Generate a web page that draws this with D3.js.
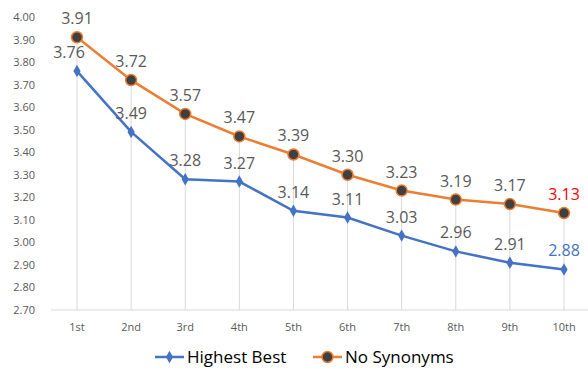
<!DOCTYPE html>
<html>
<head>
<meta charset="utf-8">
<script src="https://cdn.jsdelivr.net/npm/d3@7"></script>
<style>
    body { margin: 0; background: #fff; }
    text { font-family: "Open Sans", "Noto Sans", sans-serif; }
</style>
</head>
<body>
<div id="chart"></div>
<script>
// chart data
const categories = ["1st", "2nd", "3rd", "4th", "5th", "6th", "7th", "8th", "9th", "10th"];
const highestBest = [3.76, 3.49, 3.28, 3.27, 3.14, 3.11, 3.03, 2.96, 2.91, 2.88];
const noSynonyms = [3.91, 3.72, 3.57, 3.47, 3.39, 3.30, 3.23, 3.19, 3.17, 3.13];
const yTicks = [2.70, 2.80, 2.90, 3.00, 3.10, 3.20, 3.30, 3.40, 3.50, 3.60, 3.70, 3.80, 3.90, 4.00];

const W = 588, H = 373;
const svg = d3.select("#chart").append("svg")
    .attr("width", W)
    .attr("height", H);

// scales
const x = d3.scalePoint()
    .domain(categories)
    .range([77, 564]);

const y = d3.scaleLinear()
    .domain([2.7, 4.0])
    .range([310, 17]);

// y axis labels
svg.append("g")
    .selectAll("text")
    .data(yTicks)
    .enter().append("text")
    .attr("x", 35)
    .attr("y", d => y(d) + 4)
    .attr("text-anchor", "end")
    .attr("font-size", 11)
    .attr("fill", "#595959")
    .text(d => d.toFixed(2));

// drop lines from the top series to the axis
svg.append("g")
    .selectAll("line")
    .data(categories)
    .enter().append("line")
    .attr("x1", d => x(d))
    .attr("x2", d => x(d))
    .attr("y1", (d, i) => y(Math.max(noSynonyms[i], highestBest[i])))
    .attr("y2", y(2.7))
    .attr("stroke", "#d9d9d9")
    .attr("stroke-width", 1);

// x axis line
svg.append("line")
    .attr("x1", 51).attr("x2", 588)
    .attr("y1", y(2.7)).attr("y2", y(2.7))
    .attr("stroke", "#d9d9d9")
    .attr("stroke-width", 1);

// x axis labels
svg.append("g")
    .selectAll("text")
    .data(categories)
    .enter().append("text")
    .attr("x", d => x(d))
    .attr("y", 331)
    .attr("text-anchor", "middle")
    .attr("font-size", 11)
    .attr("fill", "#595959")
    .text(d => d);

const line = d3.line()
    .x((d, i) => x(categories[i]))
    .y(d => y(d));

// Highest Best series
svg.append("path")
    .datum(highestBest)
    .attr("d", line)
    .attr("fill", "none")
    .attr("stroke", "#4472C4")
    .attr("stroke-width", 2.5);

svg.append("g")
    .selectAll("path")
    .data(highestBest)
    .enter().append("path")
    .attr("d", d3.symbol().type(d3.symbolDiamond).size(45))
    .attr("transform", (d, i) => `translate(${x(categories[i])},${y(d)})`)
    .attr("fill", "#4472C4");

// No Synonyms series
svg.append("path")
    .datum(noSynonyms)
    .attr("d", line)
    .attr("fill", "none")
    .attr("stroke", "#ED7D31")
    .attr("stroke-width", 2.5);

svg.append("g")
    .selectAll("circle")
    .data(noSynonyms)
    .enter().append("circle")
    .attr("cx", (d, i) => x(categories[i]))
    .attr("cy", d => y(d))
    .attr("r", 5.5)
    .attr("fill", "#404040")
    .attr("stroke", "#ED7D31")
    .attr("stroke-width", 1.5);

// data labels
const last = categories.length - 1;
svg.append("g")
    .selectAll("text")
    .data(highestBest)
    .enter().append("text")
    .attr("x", (d, i) => x(categories[i]) - (i === 0 ? 8 : 0))
    .attr("y", d => y(d) - 13)
    .attr("text-anchor", "middle")
    .attr("font-size", 16)
    .attr("fill", (d, i) => i === last ? "#4472C4" : "#595959")
    .text(d => d.toFixed(2));

svg.append("g")
    .selectAll("text")
    .data(noSynonyms)
    .enter().append("text")
    .attr("x", (d, i) => x(categories[i]))
    .attr("y", d => y(d) - 13)
    .attr("text-anchor", "middle")
    .attr("font-size", 16)
    .attr("fill", (d, i) => i === last ? "#FF0000" : "#595959")
    .text(d => d.toFixed(2));

// legend
const legend = svg.append("g").attr("transform", "translate(0,357)");
legend.append("line")
    .attr("x1", 155).attr("x2", 184).attr("y1", 0).attr("y2", 0)
    .attr("stroke", "#4472C4").attr("stroke-width", 2.5);
legend.append("path")
    .attr("d", d3.symbol().type(d3.symbolDiamond).size(45))
    .attr("transform", "translate(169.5,0)")
    .attr("fill", "#4472C4");
legend.append("text")
    .attr("x", 187).attr("y", 6)
    .attr("font-size", 17)
    .attr("fill", "#000")
    .text("Highest Best");

legend.append("line")
    .attr("x1", 313).attr("x2", 342).attr("y1", 0).attr("y2", 0)
    .attr("stroke", "#ED7D31").attr("stroke-width", 2.5);
legend.append("circle")
    .attr("cx", 327.5).attr("cy", 0).attr("r", 5.5)
    .attr("fill", "#404040")
    .attr("stroke", "#ED7D31").attr("stroke-width", 1.5);
legend.append("text")
    .attr("x", 345).attr("y", 6)
    .attr("font-size", 17)
    .attr("fill", "#000")
    .text("No Synonyms");
</script>
</body>
</html>
